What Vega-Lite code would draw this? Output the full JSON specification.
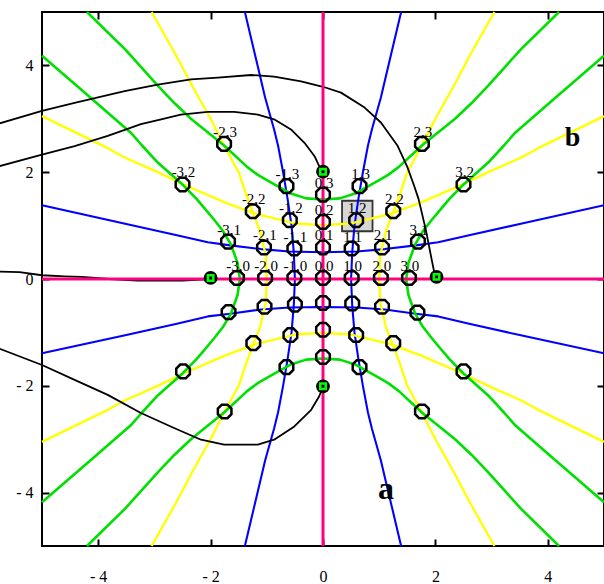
{
  "$schema": "https://vega.github.io/schema/vega-lite/v6.json",
  "width": 562,
  "height": 534,
  "autosize": {"type": "none"},
  "padding": {"left": 42, "top": 12, "right": 0, "bottom": 38},
  "background": "#ffffff",
  "config": {
    "view": {"stroke": "#000000", "strokeWidth": 2},
    "axis": {"grid": false, "domain": false, "tickColor": "#000000", "tickWidth": 2, "tickSize": -7, "labelFont": "Liberation Serif", "labelFontSize": 16, "labelColor": "#000000", "labelOverlap": false, "labelFlush": false}
  },
  "datasets": {
    "curves": [
      {"k":"blue","s":"bh1","o":0,"x":-5,"y":1.38},{"k":"blue","s":"bh1","o":1,"x":-3.5,"y":1.03},{"k":"blue","s":"bh1","o":2,"x":-2.6,"y":0.82},{"k":"blue","s":"bh1","o":3,"x":-2.05,"y":0.69},{"k":"blue","s":"bh1","o":4,"x":-1.65,"y":0.63},{"k":"blue","s":"bh1","o":5,"x":-1.1,"y":0.56},{"k":"blue","s":"bh1","o":6,"x":-0.6,"y":0.515},{"k":"blue","s":"bh1","o":7,"x":0,"y":0.5},{"k":"blue","s":"bh1","o":8,"x":0.6,"y":0.515},{"k":"blue","s":"bh1","o":9,"x":1.1,"y":0.56},{"k":"blue","s":"bh1","o":10,"x":1.65,"y":0.63},{"k":"blue","s":"bh1","o":11,"x":2.05,"y":0.69},{"k":"blue","s":"bh1","o":12,"x":2.6,"y":0.82},{"k":"blue","s":"bh1","o":13,"x":3.5,"y":1.03},{"k":"blue","s":"bh1","o":14,"x":5,"y":1.38},
      {"k":"blue","s":"bh2","o":0,"x":-5,"y":-1.39},{"k":"blue","s":"bh2","o":1,"x":-3.5,"y":-1.05},{"k":"blue","s":"bh2","o":2,"x":-2.6,"y":-0.84},{"k":"blue","s":"bh2","o":3,"x":-2.05,"y":-0.7},{"k":"blue","s":"bh2","o":4,"x":-1.65,"y":-0.65},{"k":"blue","s":"bh2","o":5,"x":-1.1,"y":-0.57},{"k":"blue","s":"bh2","o":6,"x":-0.6,"y":-0.535},{"k":"blue","s":"bh2","o":7,"x":0,"y":-0.525},{"k":"blue","s":"bh2","o":8,"x":0.6,"y":-0.535},{"k":"blue","s":"bh2","o":9,"x":1.1,"y":-0.57},{"k":"blue","s":"bh2","o":10,"x":1.65,"y":-0.65},{"k":"blue","s":"bh2","o":11,"x":2.05,"y":-0.7},{"k":"blue","s":"bh2","o":12,"x":2.6,"y":-0.84},{"k":"blue","s":"bh2","o":13,"x":3.5,"y":-1.05},{"k":"blue","s":"bh2","o":14,"x":5,"y":-1.39},
      {"k":"blue","s":"bv1","o":0,"x":-1.39,"y":5},{"k":"blue","s":"bv1","o":1,"x":-1.12,"y":3.8},{"k":"blue","s":"bv1","o":2,"x":-1.03,"y":3.4},{"k":"blue","s":"bv1","o":3,"x":-0.87,"y":2.8},{"k":"blue","s":"bv1","o":4,"x":-0.8,"y":2.5},{"k":"blue","s":"bv1","o":5,"x":-0.71,"y":2},{"k":"blue","s":"bv1","o":6,"x":-0.63,"y":1.5},{"k":"blue","s":"bv1","o":7,"x":-0.56,"y":1},{"k":"blue","s":"bv1","o":8,"x":-0.52,"y":0.5},{"k":"blue","s":"bv1","o":9,"x":-0.5,"y":0},{"k":"blue","s":"bv1","o":10,"x":-0.52,"y":-0.5},{"k":"blue","s":"bv1","o":11,"x":-0.56,"y":-1},{"k":"blue","s":"bv1","o":12,"x":-0.63,"y":-1.5},{"k":"blue","s":"bv1","o":13,"x":-0.71,"y":-2},{"k":"blue","s":"bv1","o":14,"x":-0.8,"y":-2.5},{"k":"blue","s":"bv1","o":15,"x":-0.87,"y":-2.8},{"k":"blue","s":"bv1","o":16,"x":-1.03,"y":-3.4},{"k":"blue","s":"bv1","o":17,"x":-1.12,"y":-3.8},{"k":"blue","s":"bv1","o":18,"x":-1.39,"y":-5},
      {"k":"blue","s":"bv2","o":0,"x":1.39,"y":5},{"k":"blue","s":"bv2","o":1,"x":1.12,"y":3.8},{"k":"blue","s":"bv2","o":2,"x":1.03,"y":3.4},{"k":"blue","s":"bv2","o":3,"x":0.87,"y":2.8},{"k":"blue","s":"bv2","o":4,"x":0.8,"y":2.5},{"k":"blue","s":"bv2","o":5,"x":0.71,"y":2},{"k":"blue","s":"bv2","o":6,"x":0.63,"y":1.5},{"k":"blue","s":"bv2","o":7,"x":0.56,"y":1},{"k":"blue","s":"bv2","o":8,"x":0.52,"y":0.5},{"k":"blue","s":"bv2","o":9,"x":0.5,"y":0},{"k":"blue","s":"bv2","o":10,"x":0.52,"y":-0.5},{"k":"blue","s":"bv2","o":11,"x":0.56,"y":-1},{"k":"blue","s":"bv2","o":12,"x":0.63,"y":-1.5},{"k":"blue","s":"bv2","o":13,"x":0.71,"y":-2},{"k":"blue","s":"bv2","o":14,"x":0.8,"y":-2.5},{"k":"blue","s":"bv2","o":15,"x":0.87,"y":-2.8},{"k":"blue","s":"bv2","o":16,"x":1.03,"y":-3.4},{"k":"blue","s":"bv2","o":17,"x":1.12,"y":-3.8},{"k":"blue","s":"bv2","o":18,"x":1.39,"y":-5},
      {"k":"yellow","s":"yv1","o":0,"x":-3.05,"y":5},{"k":"yellow","s":"yv1","o":1,"x":-2.62,"y":4.2},{"k":"yellow","s":"yv1","o":2,"x":-2.32,"y":3.6},{"k":"yellow","s":"yv1","o":3,"x":-2,"y":3},{"k":"yellow","s":"yv1","o":4,"x":-1.76,"y":2.5},{"k":"yellow","s":"yv1","o":5,"x":-1.5,"y":2},{"k":"yellow","s":"yv1","o":6,"x":-1.38,"y":1.62},{"k":"yellow","s":"yv1","o":7,"x":-1.25,"y":1.25},{"k":"yellow","s":"yv1","o":8,"x":-1.12,"y":0.9},{"k":"yellow","s":"yv1","o":9,"x":-1.02,"y":0.45},{"k":"yellow","s":"yv1","o":10,"x":-1,"y":0},{"k":"yellow","s":"yv1","o":11,"x":-1.02,"y":-0.45},{"k":"yellow","s":"yv1","o":12,"x":-1.12,"y":-0.9},{"k":"yellow","s":"yv1","o":13,"x":-1.25,"y":-1.25},{"k":"yellow","s":"yv1","o":14,"x":-1.38,"y":-1.62},{"k":"yellow","s":"yv1","o":15,"x":-1.5,"y":-2},{"k":"yellow","s":"yv1","o":16,"x":-1.76,"y":-2.5},{"k":"yellow","s":"yv1","o":17,"x":-2,"y":-3},{"k":"yellow","s":"yv1","o":18,"x":-2.32,"y":-3.6},{"k":"yellow","s":"yv1","o":19,"x":-2.62,"y":-4.2},{"k":"yellow","s":"yv1","o":20,"x":-3.05,"y":-5},
      {"k":"yellow","s":"yv2","o":0,"x":3.05,"y":5},{"k":"yellow","s":"yv2","o":1,"x":2.62,"y":4.2},{"k":"yellow","s":"yv2","o":2,"x":2.32,"y":3.6},{"k":"yellow","s":"yv2","o":3,"x":2,"y":3},{"k":"yellow","s":"yv2","o":4,"x":1.76,"y":2.5},{"k":"yellow","s":"yv2","o":5,"x":1.5,"y":2},{"k":"yellow","s":"yv2","o":6,"x":1.38,"y":1.62},{"k":"yellow","s":"yv2","o":7,"x":1.25,"y":1.25},{"k":"yellow","s":"yv2","o":8,"x":1.12,"y":0.9},{"k":"yellow","s":"yv2","o":9,"x":1.02,"y":0.45},{"k":"yellow","s":"yv2","o":10,"x":1,"y":0},{"k":"yellow","s":"yv2","o":11,"x":1.02,"y":-0.45},{"k":"yellow","s":"yv2","o":12,"x":1.12,"y":-0.9},{"k":"yellow","s":"yv2","o":13,"x":1.25,"y":-1.25},{"k":"yellow","s":"yv2","o":14,"x":1.38,"y":-1.62},{"k":"yellow","s":"yv2","o":15,"x":1.5,"y":-2},{"k":"yellow","s":"yv2","o":16,"x":1.76,"y":-2.5},{"k":"yellow","s":"yv2","o":17,"x":2,"y":-3},{"k":"yellow","s":"yv2","o":18,"x":2.32,"y":-3.6},{"k":"yellow","s":"yv2","o":19,"x":2.62,"y":-4.2},{"k":"yellow","s":"yv2","o":20,"x":3.05,"y":-5},
      {"k":"yellow","s":"yh1","o":0,"x":-5,"y":3.05},{"k":"yellow","s":"yh1","o":1,"x":-3.83,"y":2.45},{"k":"yellow","s":"yh1","o":2,"x":-3.52,"y":2.27},{"k":"yellow","s":"yh1","o":3,"x":-3,"y":2.03},{"k":"yellow","s":"yh1","o":4,"x":-2.5,"y":1.78},{"k":"yellow","s":"yh1","o":5,"x":-1.76,"y":1.44},{"k":"yellow","s":"yh1","o":6,"x":-1.2,"y":1.22},{"k":"yellow","s":"yh1","o":7,"x":-0.5,"y":1.04},{"k":"yellow","s":"yh1","o":8,"x":0,"y":1.01},{"k":"yellow","s":"yh1","o":9,"x":0.5,"y":1.04},{"k":"yellow","s":"yh1","o":10,"x":1.2,"y":1.22},{"k":"yellow","s":"yh1","o":11,"x":1.76,"y":1.44},{"k":"yellow","s":"yh1","o":12,"x":2.5,"y":1.78},{"k":"yellow","s":"yh1","o":13,"x":3,"y":2.03},{"k":"yellow","s":"yh1","o":14,"x":3.52,"y":2.27},{"k":"yellow","s":"yh1","o":15,"x":3.83,"y":2.45},{"k":"yellow","s":"yh1","o":16,"x":5,"y":3.05},
      {"k":"yellow","s":"yh2","o":0,"x":-5,"y":-3.05},{"k":"yellow","s":"yh2","o":1,"x":-3.83,"y":-2.45},{"k":"yellow","s":"yh2","o":2,"x":-3.52,"y":-2.27},{"k":"yellow","s":"yh2","o":3,"x":-3,"y":-2.03},{"k":"yellow","s":"yh2","o":4,"x":-2.5,"y":-1.78},{"k":"yellow","s":"yh2","o":5,"x":-1.76,"y":-1.44},{"k":"yellow","s":"yh2","o":6,"x":-1.2,"y":-1.22},{"k":"yellow","s":"yh2","o":7,"x":-0.5,"y":-1.04},{"k":"yellow","s":"yh2","o":8,"x":0,"y":-1.01},{"k":"yellow","s":"yh2","o":9,"x":0.5,"y":-1.04},{"k":"yellow","s":"yh2","o":10,"x":1.2,"y":-1.22},{"k":"yellow","s":"yh2","o":11,"x":1.76,"y":-1.44},{"k":"yellow","s":"yh2","o":12,"x":2.5,"y":-1.78},{"k":"yellow","s":"yh2","o":13,"x":3,"y":-2.03},{"k":"yellow","s":"yh2","o":14,"x":3.52,"y":-2.27},{"k":"yellow","s":"yh2","o":15,"x":3.83,"y":-2.45},{"k":"yellow","s":"yh2","o":16,"x":5,"y":-3.05},
      {"k":"green","s":"ga","o":0,"x":-4.2,"y":5},{"k":"green","s":"ga","o":1,"x":-3.52,"y":4.3},{"k":"green","s":"ga","o":2,"x":-2.94,"y":3.62},{"k":"green","s":"ga","o":3,"x":-2.65,"y":3.3},{"k":"green","s":"ga","o":4,"x":-2.35,"y":3},{"k":"green","s":"ga","o":5,"x":-1.76,"y":2.5},{"k":"green","s":"ga","o":6,"x":-1.35,"y":2.1},{"k":"green","s":"ga","o":7,"x":-1.16,"y":1.95},{"k":"green","s":"ga","o":8,"x":-1,"y":1.85},{"k":"green","s":"ga","o":9,"x":-0.57,"y":1.6},{"k":"green","s":"ga","o":10,"x":-0.3,"y":1.51},{"k":"green","s":"ga","o":11,"x":0,"y":1.49},{"k":"green","s":"ga","o":12,"x":0.3,"y":1.51},{"k":"green","s":"ga","o":13,"x":0.57,"y":1.6},{"k":"green","s":"ga","o":14,"x":1,"y":1.85},{"k":"green","s":"ga","o":15,"x":1.16,"y":1.95},{"k":"green","s":"ga","o":16,"x":1.35,"y":2.1},{"k":"green","s":"ga","o":17,"x":1.76,"y":2.5},{"k":"green","s":"ga","o":18,"x":2.35,"y":3},{"k":"green","s":"ga","o":19,"x":2.65,"y":3.3},{"k":"green","s":"ga","o":20,"x":2.94,"y":3.62},{"k":"green","s":"ga","o":21,"x":3.52,"y":4.3},{"k":"green","s":"ga","o":22,"x":4.2,"y":5},
      {"k":"green","s":"gc","o":0,"x":-4.2,"y":-5},{"k":"green","s":"gc","o":1,"x":-3.52,"y":-4.3},{"k":"green","s":"gc","o":2,"x":-2.94,"y":-3.62},{"k":"green","s":"gc","o":3,"x":-2.65,"y":-3.3},{"k":"green","s":"gc","o":4,"x":-2.35,"y":-3},{"k":"green","s":"gc","o":5,"x":-1.76,"y":-2.5},{"k":"green","s":"gc","o":6,"x":-1.35,"y":-2.1},{"k":"green","s":"gc","o":7,"x":-1.16,"y":-1.95},{"k":"green","s":"gc","o":8,"x":-1,"y":-1.85},{"k":"green","s":"gc","o":9,"x":-0.57,"y":-1.6},{"k":"green","s":"gc","o":10,"x":-0.3,"y":-1.51},{"k":"green","s":"gc","o":11,"x":0,"y":-1.49},{"k":"green","s":"gc","o":12,"x":0.3,"y":-1.51},{"k":"green","s":"gc","o":13,"x":0.57,"y":-1.6},{"k":"green","s":"gc","o":14,"x":1,"y":-1.85},{"k":"green","s":"gc","o":15,"x":1.16,"y":-1.95},{"k":"green","s":"gc","o":16,"x":1.35,"y":-2.1},{"k":"green","s":"gc","o":17,"x":1.76,"y":-2.5},{"k":"green","s":"gc","o":18,"x":2.35,"y":-3},{"k":"green","s":"gc","o":19,"x":2.65,"y":-3.3},{"k":"green","s":"gc","o":20,"x":2.94,"y":-3.62},{"k":"green","s":"gc","o":21,"x":3.52,"y":-4.3},{"k":"green","s":"gc","o":22,"x":4.2,"y":-5},
      {"k":"green","s":"gb1","o":0,"x":-5,"y":4.18},{"k":"green","s":"gb1","o":1,"x":-4.13,"y":3.39},{"k":"green","s":"gb1","o":2,"x":-3.42,"y":2.74},{"k":"green","s":"gb1","o":3,"x":-3.22,"y":2.5},{"k":"green","s":"gb1","o":4,"x":-2.94,"y":2.18},{"k":"green","s":"gb1","o":5,"x":-2.5,"y":1.77},{"k":"green","s":"gb1","o":6,"x":-2.25,"y":1.5},{"k":"green","s":"gb1","o":7,"x":-2.04,"y":1.24},{"k":"green","s":"gb1","o":8,"x":-1.93,"y":1.1},{"k":"green","s":"gb1","o":9,"x":-1.78,"y":0.9},{"k":"green","s":"gb1","o":10,"x":-1.64,"y":0.65},{"k":"green","s":"gb1","o":11,"x":-1.52,"y":0.3},{"k":"green","s":"gb1","o":12,"x":-1.48,"y":0},{"k":"green","s":"gb1","o":13,"x":-1.52,"y":-0.3},{"k":"green","s":"gb1","o":14,"x":-1.64,"y":-0.65},{"k":"green","s":"gb1","o":15,"x":-1.78,"y":-0.9},{"k":"green","s":"gb1","o":16,"x":-1.93,"y":-1.1},{"k":"green","s":"gb1","o":17,"x":-2.04,"y":-1.24},{"k":"green","s":"gb1","o":18,"x":-2.25,"y":-1.5},{"k":"green","s":"gb1","o":19,"x":-2.5,"y":-1.77},{"k":"green","s":"gb1","o":20,"x":-2.94,"y":-2.18},{"k":"green","s":"gb1","o":21,"x":-3.22,"y":-2.5},{"k":"green","s":"gb1","o":22,"x":-3.42,"y":-2.74},{"k":"green","s":"gb1","o":23,"x":-4.13,"y":-3.39},{"k":"green","s":"gb1","o":24,"x":-5,"y":-4.18},
      {"k":"green","s":"gb2","o":0,"x":5,"y":4.18},{"k":"green","s":"gb2","o":1,"x":4.13,"y":3.39},{"k":"green","s":"gb2","o":2,"x":3.42,"y":2.74},{"k":"green","s":"gb2","o":3,"x":3.22,"y":2.5},{"k":"green","s":"gb2","o":4,"x":2.94,"y":2.18},{"k":"green","s":"gb2","o":5,"x":2.5,"y":1.77},{"k":"green","s":"gb2","o":6,"x":2.25,"y":1.5},{"k":"green","s":"gb2","o":7,"x":2.04,"y":1.24},{"k":"green","s":"gb2","o":8,"x":1.93,"y":1.1},{"k":"green","s":"gb2","o":9,"x":1.78,"y":0.9},{"k":"green","s":"gb2","o":10,"x":1.64,"y":0.65},{"k":"green","s":"gb2","o":11,"x":1.52,"y":0.3},{"k":"green","s":"gb2","o":12,"x":1.48,"y":0},{"k":"green","s":"gb2","o":13,"x":1.52,"y":-0.3},{"k":"green","s":"gb2","o":14,"x":1.64,"y":-0.65},{"k":"green","s":"gb2","o":15,"x":1.78,"y":-0.9},{"k":"green","s":"gb2","o":16,"x":1.93,"y":-1.1},{"k":"green","s":"gb2","o":17,"x":2.04,"y":-1.24},{"k":"green","s":"gb2","o":18,"x":2.25,"y":-1.5},{"k":"green","s":"gb2","o":19,"x":2.5,"y":-1.77},{"k":"green","s":"gb2","o":20,"x":2.94,"y":-2.18},{"k":"green","s":"gb2","o":21,"x":3.22,"y":-2.5},{"k":"green","s":"gb2","o":22,"x":3.42,"y":-2.74},{"k":"green","s":"gb2","o":23,"x":4.13,"y":-3.39},{"k":"green","s":"gb2","o":24,"x":5,"y":-4.18},
      {"k":"black","s":"k1","o":0,"x":-5.77,"y":2.91},{"k":"black","s":"k1","o":1,"x":-5,"y":3.15},{"k":"black","s":"k1","o":2,"x":-4.42,"y":3.3},{"k":"black","s":"k1","o":3,"x":-3.53,"y":3.52},{"k":"black","s":"k1","o":4,"x":-2.94,"y":3.64},{"k":"black","s":"k1","o":5,"x":-2.35,"y":3.74},{"k":"black","s":"k1","o":6,"x":-1.87,"y":3.77},{"k":"black","s":"k1","o":7,"x":-1.28,"y":3.82},{"k":"black","s":"k1","o":8,"x":-0.87,"y":3.79},{"k":"black","s":"k1","o":9,"x":-0.39,"y":3.7},{"k":"black","s":"k1","o":10,"x":0,"y":3.6},{"k":"black","s":"k1","o":11,"x":0.32,"y":3.49},{"k":"black","s":"k1","o":12,"x":0.74,"y":3.21},{"k":"black","s":"k1","o":13,"x":1.03,"y":2.93},{"k":"black","s":"k1","o":14,"x":1.33,"y":2.49},{"k":"black","s":"k1","o":15,"x":1.5,"y":2.1},{"k":"black","s":"k1","o":16,"x":1.62,"y":1.75},{"k":"black","s":"k1","o":17,"x":1.7,"y":1.5},{"k":"black","s":"k1","o":18,"x":1.83,"y":0.92},{"k":"black","s":"k1","o":19,"x":1.94,"y":0.33},{"k":"black","s":"k1","o":20,"x":2,"y":0.02},
      {"k":"black","s":"k2","o":0,"x":-5.77,"y":2.11},{"k":"black","s":"k2","o":1,"x":-5,"y":2.33},{"k":"black","s":"k2","o":2,"x":-4.42,"y":2.49},{"k":"black","s":"k2","o":3,"x":-3.83,"y":2.68},{"k":"black","s":"k2","o":4,"x":-3.24,"y":2.9},{"k":"black","s":"k2","o":5,"x":-2.88,"y":2.99},{"k":"black","s":"k2","o":6,"x":-2.53,"y":3.08},{"k":"black","s":"k2","o":7,"x":-2.05,"y":3.13},{"k":"black","s":"k2","o":8,"x":-1.58,"y":3.13},{"k":"black","s":"k2","o":9,"x":-1.16,"y":3.08},{"k":"black","s":"k2","o":10,"x":-0.87,"y":2.99},{"k":"black","s":"k2","o":11,"x":-0.57,"y":2.8},{"k":"black","s":"k2","o":12,"x":-0.33,"y":2.55},{"k":"black","s":"k2","o":13,"x":-0.15,"y":2.3},{"k":"black","s":"k2","o":14,"x":-0.07,"y":2.12},{"k":"black","s":"k2","o":15,"x":0,"y":2.02},
      {"k":"black","s":"k3","o":0,"x":-5.77,"y":0.14},{"k":"black","s":"k3","o":1,"x":-5.4,"y":0.13},{"k":"black","s":"k3","o":2,"x":-5,"y":0.07},{"k":"black","s":"k3","o":3,"x":-4.6,"y":0.05},{"k":"black","s":"k3","o":4,"x":-4.3,"y":0.04},{"k":"black","s":"k3","o":5,"x":-3.8,"y":0},{"k":"black","s":"k3","o":6,"x":-3.3,"y":-0.03},{"k":"black","s":"k3","o":7,"x":-2.5,"y":-0.03},{"k":"black","s":"k3","o":8,"x":-2,"y":0},
      {"k":"black","s":"k4","o":0,"x":-5.77,"y":-1.3},{"k":"black","s":"k4","o":1,"x":-5,"y":-1.61},{"k":"black","s":"k4","o":2,"x":-4.42,"y":-1.89},{"k":"black","s":"k4","o":3,"x":-3.83,"y":-2.17},{"k":"black","s":"k4","o":4,"x":-3.24,"y":-2.51},{"k":"black","s":"k4","o":5,"x":-2.65,"y":-2.79},{"k":"black","s":"k4","o":6,"x":-2.17,"y":-3.01},{"k":"black","s":"k4","o":7,"x":-1.76,"y":-3.1},{"k":"black","s":"k4","o":8,"x":-1.16,"y":-3.1},{"k":"black","s":"k4","o":9,"x":-0.87,"y":-3.01},{"k":"black","s":"k4","o":10,"x":-0.51,"y":-2.76},{"k":"black","s":"k4","o":11,"x":-0.21,"y":-2.45},{"k":"black","s":"k4","o":12,"x":-0.07,"y":-2.2},{"k":"black","s":"k4","o":13,"x":0,"y":-2.02}
    ],
    "axes0": [
      {"s":"p1","o":0,"x":0,"y":-5},{"s":"p1","o":1,"x":0,"y":5},
      {"s":"p2","o":0,"x":-5,"y":0},{"s":"p2","o":1,"x":5,"y":0}
    ],
    "pts": [
      {"x":-1.53,"y":0.02,"lab":"-3,0"},{"x":-1.03,"y":0.02,"lab":"-2,0"},{"x":-0.51,"y":0.02,"lab":"-1,0"},{"x":0,"y":0.02,"lab":"0,0"},{"x":0.51,"y":0.02,"lab":"1,0"},{"x":1.03,"y":0.02,"lab":"2,0"},{"x":1.53,"y":0.02,"lab":"3,0"},
      {"x":-1.69,"y":0.7,"lab":"-3,1"},{"x":-1.05,"y":0.59,"lab":"-2,1"},{"x":-0.51,"y":0.57,"lab":"-1,1"},{"x":0,"y":0.59,"lab":"0,1"},{"x":0.51,"y":0.57,"lab":"1,1"},{"x":1.05,"y":0.59,"lab":"2,1"},{"x":1.69,"y":0.7,"lab":"3,1"},
      {"x":-2.5,"y":1.77,"lab":"-3,2"},{"x":-1.25,"y":1.27,"lab":"-2,2"},{"x":-0.59,"y":1.1,"lab":"-1,2"},{"x":0,"y":1.07,"lab":"0,2"},{"x":0.59,"y":1.1,"lab":"1,2"},{"x":1.25,"y":1.27,"lab":"2,2"},{"x":2.5,"y":1.77,"lab":"3,2"},
      {"x":-1.76,"y":2.53,"lab":"-2,3"},{"x":-0.65,"y":1.74,"lab":"-1,3"},{"x":0,"y":1.58,"lab":"0,3"},{"x":0.65,"y":1.74,"lab":"1,3"},{"x":1.76,"y":2.53,"lab":"2,3"},
      {"x":-1.68,"y":-0.62,"lab":""},{"x":-1.04,"y":-0.52,"lab":""},{"x":-0.5,"y":-0.48,"lab":""},{"x":0,"y":-0.45,"lab":""},{"x":0.52,"y":-0.46,"lab":""},{"x":1.05,"y":-0.52,"lab":""},{"x":1.68,"y":-0.63,"lab":""},
      {"x":-2.49,"y":-1.73,"lab":""},{"x":-1.24,"y":-1.2,"lab":""},{"x":-0.58,"y":-1.05,"lab":""},{"x":0,"y":-0.95,"lab":""},{"x":0.59,"y":-1.05,"lab":""},{"x":1.25,"y":-1.2,"lab":""},{"x":2.5,"y":-1.73,"lab":""},
      {"x":-1.75,"y":-2.48,"lab":""},{"x":-0.65,"y":-1.65,"lab":""},{"x":0,"y":-1.46,"lab":""},{"x":0.65,"y":-1.65,"lab":""},{"x":1.76,"y":-2.48,"lab":""}
    ],
    "poles": [
      {"x":0,"y":2.01},{"x":-2,"y":0.02},{"x":2.02,"y":0.04},{"x":0,"y":-2.01}
    ],
    "box": [{"x":0.61,"y":1.18}],
    "noteA": [{"x":1.12,"y":-3.94,"t":"a"}],
    "noteB": [{"x":4.44,"y":2.64,"t":"b"}]
  },
  "layer": [
    {
      "data": {"name": "box"},
      "mark": {"type": "point", "shape": "square", "size": 930, "filled": true, "color": "#d6d6d6", "stroke": "#333333", "strokeWidth": 1.8, "opacity": 1},
      "encoding": {
        "x": {"field": "x", "type": "quantitative", "scale": {"domain": [-5, 5], "nice": false, "zero": false}, "axis": null},
        "y": {"field": "y", "type": "quantitative", "scale": {"domain": [-5, 5], "nice": false, "zero": false}, "axis": null}
      }
    },
    {
      "data": {"name": "curves"},
      "mark": {"type": "line", "clip": false, "strokeJoin": "round"},
      "encoding": {
        "x": {"field": "x", "type": "quantitative", "scale": {"domain": [-5, 5], "nice": false, "zero": false},
              "axis": {"orient": "bottom", "values": [-4, -2, 0, 2, 4], "labelPadding": 29, "title": null,
                       "labelExpr": "datum.value < 0 ? '- ' + abs(datum.value) : '' + datum.value"}},
        "y": {"field": "y", "type": "quantitative", "scale": {"domain": [-5, 5], "nice": false, "zero": false},
              "axis": {"orient": "left", "values": [-4, -2, 0, 2, 4], "labelPadding": 16, "title": null,
                       "labelExpr": "datum.value < 0 ? '- ' + abs(datum.value) : '' + datum.value"}},
        "color": {"field": "k", "type": "nominal", "legend": null,
                  "scale": {"domain": ["black", "blue", "yellow", "green"], "range": ["#000000", "#0000ff", "#ffff00", "#00e000"]}},
        "strokeWidth": {"field": "k", "type": "nominal", "legend": null,
                  "scale": {"domain": ["black", "blue", "yellow", "green"], "range": [1.8, 2.6, 2.4, 2.2]}},
        "detail": {"field": "s", "type": "nominal"},
        "order": {"field": "o", "type": "quantitative"}
      }
    },
    {
      "data": {"name": "axes0"},
      "mark": {"type": "line", "color": "#ff0080", "strokeWidth": 3},
      "encoding": {
        "x": {"field": "x", "type": "quantitative", "scale": {"domain": [-5, 5], "nice": false, "zero": false},
              "axis": {"orient": "top", "values": [-4, -2, 0, 2, 4], "labels": false, "title": null}},
        "y": {"field": "y", "type": "quantitative", "scale": {"domain": [-5, 5], "nice": false, "zero": false},
              "axis": {"orient": "right", "values": [-4, -2, 0, 2, 4], "labels": false, "title": null}},
        "detail": {"field": "s", "type": "nominal"},
        "order": {"field": "o", "type": "quantitative"}
      }
    },
    {
      "data": {"name": "pts"},
      "mark": {"type": "point", "shape": "M-0.414,-1L0.414,-1L1,-0.414L1,0.414L0.414,1L-0.414,1L-1,0.414L-1,-0.414Z", "size": 185, "filled": false, "stroke": "#000000", "strokeWidth": 2.5, "opacity": 1},
      "encoding": {
        "x": {"field": "x", "type": "quantitative", "axis": null},
        "y": {"field": "y", "type": "quantitative", "axis": null}
      }
    },
    {
      "data": {"name": "poles"},
      "mark": {"type": "point", "shape": "circle", "size": 190, "filled": true, "color": "#000000", "opacity": 1},
      "encoding": {
        "x": {"field": "x", "type": "quantitative", "axis": null},
        "y": {"field": "y", "type": "quantitative", "axis": null}
      }
    },
    {
      "data": {"name": "poles"},
      "mark": {"type": "point", "shape": "square", "size": 30, "filled": true, "color": "#000000", "stroke": "#00ff00", "strokeWidth": 2.5, "opacity": 1},
      "encoding": {
        "x": {"field": "x", "type": "quantitative", "axis": null},
        "y": {"field": "y", "type": "quantitative", "axis": null}
      }
    },
    {
      "data": {"name": "pts"},
      "mark": {"type": "text", "font": "Liberation Serif", "fontSize": 15, "color": "#000000", "align": "center", "baseline": "middle", "dx": 1, "dy": -12},
      "encoding": {
        "x": {"field": "x", "type": "quantitative", "axis": null},
        "y": {"field": "y", "type": "quantitative", "axis": null},
        "text": {"field": "lab", "type": "nominal"}
      }
    },
    {
      "data": {"name": "noteA"},
      "mark": {"type": "text", "font": "Liberation Serif", "fontSize": 32, "fontWeight": "bold", "color": "#000000", "align": "center", "baseline": "middle"},
      "encoding": {
        "x": {"field": "x", "type": "quantitative", "axis": null},
        "y": {"field": "y", "type": "quantitative", "axis": null},
        "text": {"field": "t", "type": "nominal"}
      }
    },
    {
      "data": {"name": "noteB"},
      "mark": {"type": "text", "font": "Liberation Serif", "fontSize": 28, "fontWeight": "bold", "color": "#000000", "align": "center", "baseline": "middle"},
      "encoding": {
        "x": {"field": "x", "type": "quantitative", "axis": null},
        "y": {"field": "y", "type": "quantitative", "axis": null},
        "text": {"field": "t", "type": "nominal"}
      }
    }
  ],
  "resolve": {"axis": {"x": "independent", "y": "independent"}}
}
